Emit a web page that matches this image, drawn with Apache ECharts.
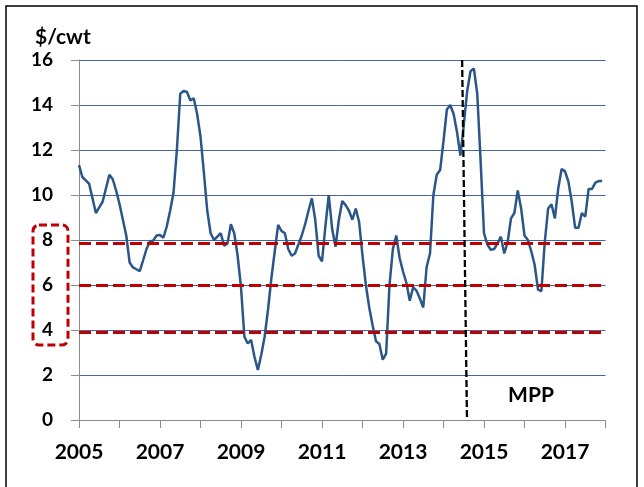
<!DOCTYPE html>
<html>
<head>
<meta charset="utf-8">
<script src="https://cdn.jsdelivr.net/npm/echarts@6/dist/echarts.min.js"></script>
<style>
html,body{margin:0;padding:0;background:#fff;}
#chart{width:644px;height:487px;}
</style>
</head>
<body>
<div id="chart"></div>
<script>
// Monthly values ($/cwt), Jan..Dec of each year
const years = [2005,2006,2007,2008,2009,2010,2011,2012,2013,2014,2015,2016,2017];
const v2005 = [11.33,10.8,10.65,10.5,9.85,9.2,9.45,9.7,10.3,10.9,10.7,10.2];
const v2006 = [9.6,8.9,8.2,7.0,6.78,6.7,6.62,7.1,7.6,7.93,7.98,8.2];
const v2007 = [8.22,8.1,8.6,9.3,10.1,12.0,14.5,14.62,14.58,14.2,14.3,13.6];
const v2008 = [12.6,11.0,9.3,8.3,8.0,8.15,8.3,7.75,7.85,8.7,8.3,7.3];
const v2009 = [5.9,3.7,3.4,3.56,2.8,2.22,2.9,3.7,4.9,6.3,7.5,8.67];
const v2010 = [8.4,8.3,7.6,7.3,7.4,7.8,8.2,8.7,9.3,9.85,8.9,7.3];
const v2011 = [7.05,8.6,10.0,8.5,7.7,8.9,9.73,9.55,9.3,8.9,9.4,8.8];
const v2012 = [7.3,6.0,5.0,4.2,3.5,3.38,2.68,2.95,6.0,7.6,8.2,7.2];
const v2013 = [6.6,6.1,5.3,5.9,5.75,5.4,5.0,6.8,7.4,10.0,10.9,11.11];
const v2014 = [12.4,13.8,14.0,13.6,12.8,11.75,13.1,14.6,15.5,15.63,14.5,11.5];
const v2015 = [8.3,7.8,7.56,7.6,7.85,8.15,7.4,7.9,8.96,9.2,10.2,9.4];
const v2016 = [8.2,8.0,7.5,6.9,5.8,5.73,7.9,9.4,9.59,8.96,10.3,11.16];
const v2017 = [11.05,10.6,9.7,8.55,8.55,9.2,9.04,10.27,10.27,10.55,10.62,10.62];
const yearValues = [v2005,v2006,v2007,v2008,v2009,v2010,v2011,v2012,v2013,v2014,v2015,v2016,v2017];

const redLevels = [7.85, 6.0, 3.9];
const mppX = [2014.46, 2014.58]; // top, bottom of the slanted MPP marker
const yTicks = {min:0, max:16, interval:2};
const xTicks = {min:2005, max:2018, interval:1};

const data = [];
years.forEach((y, yi) => {
  yearValues[yi].forEach((v, m) => data.push([y + m/12, v]));
});

const FONT = 'Lato';
const chart = echarts.init(document.getElementById('chart'), null, {renderer:'canvas'});
const markData = redLevels.map(l => ({
  yAxis: l,
  lineStyle: {color:'#c00000', width:3.2, type:[12,5]}
}));
markData.push([
  {coord:[mppX[0], yTicks.max], lineStyle:{color:'#000', width:2.3, type:[7,3]}},
  {coord:[mppX[1], yTicks.min]}
]);

chart.setOption({
  animation:false,
  backgroundColor:'#fff',
  grid:{left:79, right:38.5, top:60, bottom:67},
  xAxis:{
    type:'value', min:xTicks.min, max:xTicks.max, interval:xTicks.interval,
    axisLine:{show:true, lineStyle:{color:'#8c8c8c', width:1}},
    axisTick:{show:true, length:8, lineStyle:{color:'#8c8c8c'}},
    splitLine:{show:false},
    axisLabel:{
      margin:22, color:'#000', fontFamily:FONT, fontWeight:'bold', fontSize:21,
      formatter: v => ((Math.round(v) - 2005) % 2 === 0 && Math.round(v) < 2018) ? String(Math.round(v)) : ''
    }
  },
  yAxis:{
    type:'value', min:yTicks.min, max:yTicks.max, interval:yTicks.interval,
    axisLine:{show:true, lineStyle:{color:'#8c8c8c', width:1}},
    axisTick:{show:true, length:8, lineStyle:{color:'#8c8c8c'}},
    splitLine:{show:true, lineStyle:{color:'#45679a', width:1}},
    axisLabel:{margin:26, color:'#000', fontFamily:FONT, fontWeight:'bold', fontSize:19}
  },
  series:[{
    type:'line', data:data, showSymbol:false, silent:true,
    lineStyle:{color:'#2b5788', width:2.5},
    z:3,
    markLine:{
      silent:true, symbol:'none', label:{show:false}, animation:false,
      data:markData
    }
  }],
  graphic:[
    {type:'rect', shape:{x:6, y:6, width:631, height:490}, style:{fill:'none', stroke:'#000', lineWidth:1.5}, silent:true},
    {type:'text', x:35, y:37, style:{text:'$/cwt', fontFamily:FONT, fontWeight:'bold', fontSize:21, fill:'#000', textVerticalAlign:'middle'}},
    {type:'text', x:531, y:395, style:{text:'MPP', fontFamily:FONT, fontWeight:'bold', fontSize:21, fill:'#000', textAlign:'center', textVerticalAlign:'middle'}},
    {type:'rect', shape:{x:33, y:225, width:35, height:120, r:6}, style:{fill:'none', stroke:'#c00000', lineWidth:3, lineDash:[8,4]}, silent:true}
  ]
});
</script>
</body>
</html>
